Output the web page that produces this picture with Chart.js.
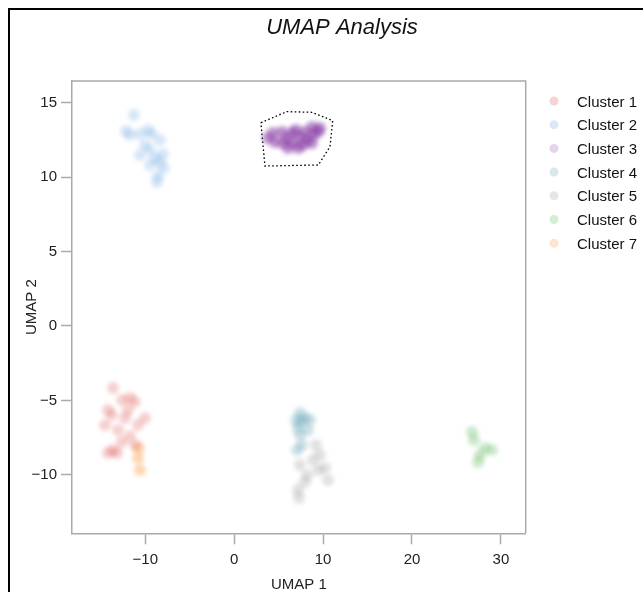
<!DOCTYPE html>
<html>
<head>
<meta charset="utf-8">
<title>UMAP Analysis</title>
<script src="https://cdn.jsdelivr.net/npm/chart.js@4.4.1/dist/chart.umd.min.js"></script>
<style>
  html, body { margin: 0; padding: 0; background: #fff; overflow: hidden; }
  #wrap { position: relative; width: 643px; height: 592px; }
  #wrap canvas { position: absolute; left: 0; top: 0; }
  #frame { position: absolute; left: 8px; top: 8px; width: 760px; height: 700px;
           border-left: 2px solid #000; border-top: 2px solid #000; pointer-events: none; }
</style>
</head>
<body>
<div id="wrap">
  <canvas id="umap" width="643" height="592"></canvas>
  <div id="frame"></div>
</div>
<script>
// ---- embedding coordinates, one [UMAP 1, UMAP 2] pair per cell ----
const cluster1 = [
  [-13.63, -4.16], [-12.62, -4.97], [-11.72, -4.84], [-11.16, -5.10], [-14.20, -5.64],
  [-12.28, -6.18], [-10.03, -6.18], [-14.53, -6.65], [-10.82, -6.65], [-13.07, -6.98],
  [-11.72, -7.39], [-12.62, -7.79], [-14.20, -8.53], [-13.18, -8.53], [-13.63, -8.33],
  [-11.16, -7.99], [-11.95, -5.64], [-13.74, -5.98]
];
const cluster2 = [
  [-11.27, 14.17], [-12.17, 13.10], [-11.72, 12.83], [-10.60, 12.89], [-9.70, 13.16],
  [-9.25, 12.89], [-8.35, 12.49], [-10.03, 12.16], [-9.47, 11.82], [-8.01, 11.55],
  [-8.91, 11.28], [-10.60, 11.48], [-8.35, 11.01], [-7.90, 10.61], [-8.57, 10.07],
  [-8.69, 9.67], [-9.47, 10.81]
];
const cluster3 = [
  [4.36, 12.96], [4.59, 12.36], [5.38, 13.03], [5.49, 12.29], [6.50, 12.96],
  [6.61, 12.29], [7.40, 12.69], [7.96, 13.03], [7.74, 12.16], [8.75, 13.36],
  [8.86, 12.83], [9.43, 13.03], [8.75, 12.29], [6.05, 11.95], [7.18, 11.95],
  [3.80, 12.63], [5.94, 12.63], [8.19, 12.49], [9.65, 13.30], [6.95, 13.16]
];
const cluster4 = [
  [7.40, -5.84], [6.95, -6.31], [7.96, -6.18], [8.53, -6.31], [7.18, -6.85],
  [8.30, -6.98], [7.40, -7.32], [7.06, -8.33], [7.63, -7.99], [7.51, -6.45]
];
const cluster5 = [
  [9.20, -7.99], [9.65, -8.66], [8.86, -9.00], [7.40, -9.34], [10.21, -9.54],
  [8.19, -10.01], [10.55, -10.34], [7.18, -11.01], [7.29, -11.55], [9.43, -9.67],
  [7.96, -10.48]
];
const cluster6 = [
  [26.75, -7.12], [26.97, -7.66], [27.65, -8.66], [27.42, -9.13], [29.00, -8.33],
  [28.20, -8.19]
];
const cluster7 = [
  [-10.82, -8.86], [-10.60, -9.67], [-10.71, -8.19]
];

// outline drawn around cluster 3 (closed polygon)
const cluster3Outline = [
  [3.01, 13.65], [5.91, 14.39], [8.72, 14.35], [11.08, 13.79],
  [10.78, 12.04], [9.46, 10.81], [3.46, 10.74], [3.01, 13.65]
];

const clusterNames = ['Cluster 1', 'Cluster 2', 'Cluster 3', 'Cluster 4', 'Cluster 5', 'Cluster 6', 'Cluster 7'];
const clusterPoints = [cluster1, cluster2, cluster3, cluster4, cluster5, cluster6, cluster7];
const clusterColors = ['#d62728', '#4a90d9', '#7d2a9e', '#3f8aa3', '#808080', '#2ca02c', '#ff7f0e'];
const clusterAlpha  = [0.22, 0.22, 0.50, 0.26, 0.24, 0.24, 0.32];

const xTickValues = [-10, 0, 10, 20, 30];
const yTickValues = [-10, -5, 0, 5, 10, 15];
const xRange = [-18.24, 32.79];
const yRange = [-13.92, 16.45];

// ---- helpers ----
function rgba(hex, a) {
  const n = parseInt(hex.slice(1), 16);
  return `rgba(${(n >> 16) & 255}, ${(n >> 8) & 255}, ${n & 255}, ${a})`;
}
const toXY = pts => pts.map(p => ({ x: p[0], y: p[1] }));
const minusSign = v => (v < 0 ? '\u2212' + Math.abs(v) : String(v));

const FONT = '"Liberation Sans", Arial, Helvetica, sans-serif';
Chart.defaults.font.family = FONT;
Chart.defaults.font.size = 15;
Chart.defaults.color = '#222';

const datasets = clusterPoints.map((pts, i) => ({
  label: clusterNames[i],
  data: toXY(pts),
  backgroundColor: rgba(clusterColors[i], clusterAlpha[i]),
  borderWidth: 0,
  pointRadius: 6,
  pointHoverRadius: 6,
  softPoints: true
}));
datasets.push({
  label: 'outline',
  data: toXY(cluster3Outline),
  showLine: true,
  borderColor: '#000',
  borderWidth: 1.3,
  borderDash: [1.6, 2.4],
  pointRadius: 0,
  fill: false,
  tension: 0
});

// soft edges on the scatter markers only
const softPoints = {
  id: 'softPoints',
  beforeDatasetDraw(chart, args) {
    const ds = chart.data.datasets[args.index];
    chart.ctx.save();
    if (ds.softPoints) chart.ctx.filter = 'blur(2px)';
  },
  afterDatasetDraw(chart) {
    chart.ctx.restore();
  }
};

// closes the plot box (top and right sides)
const plotBox = {
  id: 'plotBox',
  afterDatasetsDraw(chart) {
    const { ctx, chartArea: a } = chart;
    ctx.save();
    ctx.strokeStyle = '#aaaaaa';
    ctx.lineWidth = 1.5;
    ctx.beginPath();
    ctx.moveTo(a.left, a.top);
    ctx.lineTo(a.right, a.top);
    ctx.lineTo(a.right, a.bottom);
    ctx.stroke();
    ctx.restore();
  }
};

// title and cluster key
const annotations = {
  id: 'annotations',
  afterDraw(chart) {
    const ctx = chart.ctx;
    ctx.save();
    ctx.fillStyle = '#111';
    ctx.font = `italic 22px ${FONT}`;
    ctx.textAlign = 'center';
    ctx.textBaseline = 'middle';
    ctx.fillText('UMAP Analysis', 342, 28);

    ctx.font = `15px ${FONT}`;
    ctx.textAlign = 'left';
    clusterNames.forEach((name, i) => {
      const y = 101 + i * 23.7;
      ctx.beginPath();
      ctx.fillStyle = rgba(clusterColors[i], 0.2);
      ctx.arc(554, y, 4.5, 0, Math.PI * 2);
      ctx.fill();
      ctx.fillStyle = '#111';
      ctx.fillText(name, 577, y + 1.5);
    });
    ctx.restore();
  }
};

const axisGrid = {
  display: true,
  drawOnChartArea: false,
  drawTicks: true,
  tickLength: 11,
  tickColor: '#aaaaaa',
  tickWidth: 1.5
};
const axisBorder = { display: true, color: '#aaaaaa', width: 1.5 };

new Chart(document.getElementById('umap'), {
  type: 'scatter',
  data: { datasets },
  options: {
    responsive: false,
    animation: false,
    devicePixelRatio: 1,
    layout: { padding: { left: 0, top: 81, right: 117.3, bottom: 0 } },
    plugins: {
      legend: { display: false },
      tooltip: { enabled: false },
      title: { display: false }
    },
    scales: {
      x: {
        type: 'linear',
        position: 'bottom',
        min: xRange[0],
        max: xRange[1],
        afterBuildTicks: s => { s.ticks = xTickValues.map(v => ({ value: v })); },
        afterFit: s => { s.height = 592 - 533.3; },
        grid: axisGrid,
        border: axisBorder,
        ticks: { padding: 7, color: '#222', callback: v => minusSign(v), maxRotation: 0 },
        title: { display: true, text: 'UMAP 1', color: '#222', font: { size: 15 }, padding: { top: 0, bottom: -2 } }
      },
      y: {
        type: 'linear',
        position: 'left',
        min: yRange[0],
        max: yRange[1],
        afterBuildTicks: s => { s.ticks = yTickValues.map(v => ({ value: v })); },
        afterFit: s => { s.width = 72; },
        grid: axisGrid,
        border: axisBorder,
        ticks: { padding: 4, color: '#222', callback: v => minusSign(v) },
        title: { display: true, text: 'UMAP 2', color: '#222', font: { size: 15 }, padding: { top: 23, bottom: 0 } }
      }
    }
  },
  plugins: [softPoints, plotBox, annotations]
});
</script>
</body>
</html>
